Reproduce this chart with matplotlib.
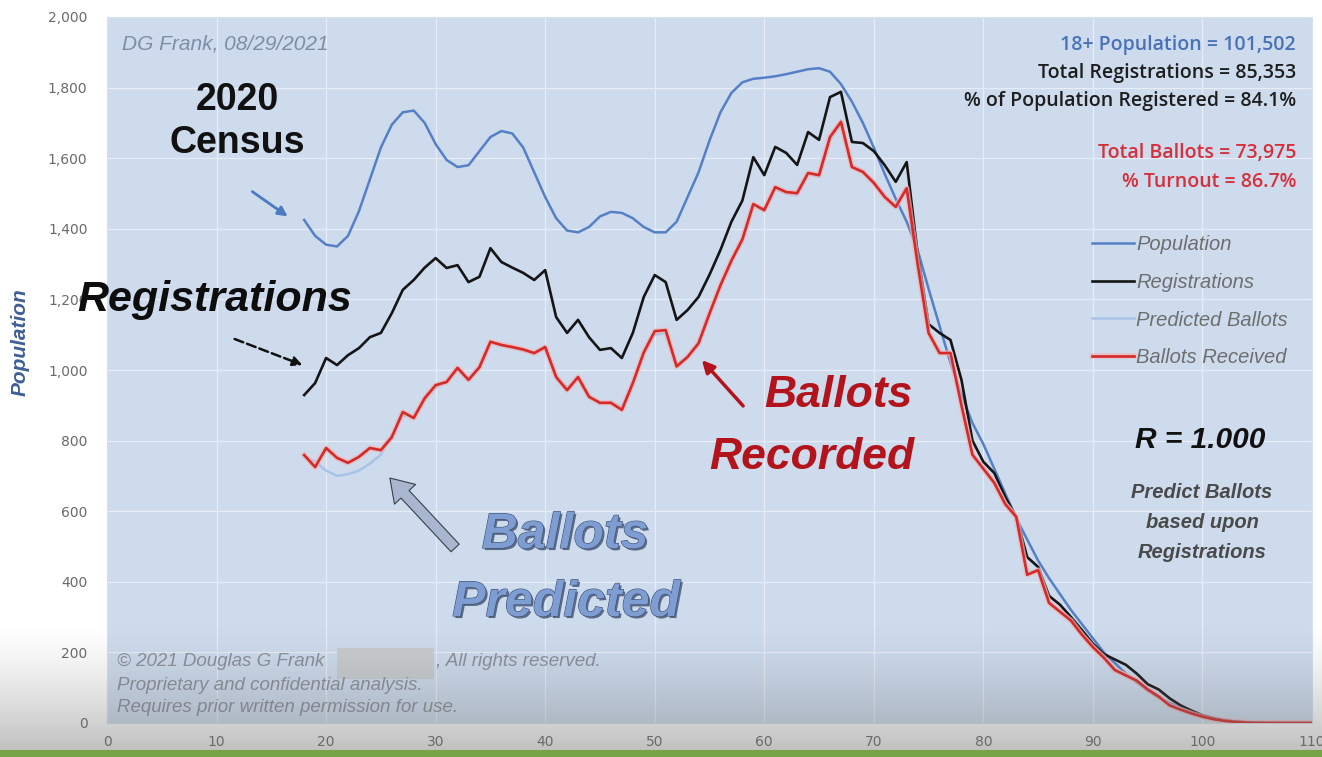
import numpy as np
import matplotlib.pyplot as plt
from matplotlib import patheffects as pe
from matplotlib.patches import Rectangle

# ---------------------------------------------------------
# data, one point per year of age
# ---------------------------------------------------------
ages = list(range(18, 111))

population = [
    1425, 1380, 1355, 1350, 1380, 1450, 1540, 1630, 1695, 1730,   # 18-27
    1735, 1700, 1640, 1595, 1575, 1580, 1620, 1660, 1677, 1670,   # 28-37
    1630, 1560, 1490, 1430, 1395, 1390, 1405, 1435, 1448, 1445,   # 38-47
    1430, 1405, 1390, 1390, 1420, 1490, 1560, 1650, 1730, 1785,   # 48-57
    1815, 1825, 1828, 1832, 1838, 1845, 1852, 1855, 1845, 1810,   # 58-67
    1760, 1700, 1630, 1555, 1485, 1420, 1340, 1230, 1125, 1020,   # 68-77
    930, 850, 790, 720, 650, 580, 520, 460, 410, 365,             # 78-87
    320, 280, 240, 200, 170, 140, 115, 92, 72, 57,                # 88-97
    42, 30, 20, 12, 7, 4, 2, 1, 1, 0, 0, 0, 0,                    # 98-110
]

registrations = [
    929, 963, 1034, 1014, 1042, 1062, 1093, 1105, 1161, 1227,
    1255, 1290, 1317, 1289, 1297, 1249, 1264, 1345, 1306, 1290,
    1275, 1255, 1283, 1150, 1105, 1142, 1093, 1057, 1062, 1034,
    1105, 1207, 1269, 1249, 1142, 1170, 1207, 1270, 1340, 1420,
    1480, 1603, 1552, 1632, 1615, 1581, 1674, 1652, 1773, 1788,
    1646, 1643, 1620, 1580, 1533, 1589, 1330, 1130, 1105, 1085,
    972, 800, 740, 708, 640, 584, 470, 442, 360, 335,
    300, 263, 225, 195, 180, 165, 140, 110, 95, 70,
    50, 35, 22, 14, 8, 4, 2, 1, 0, 0, 0, 0, 0,
]

predicted = [
    755, 740, 715, 700, 705, 715, 735, 760, 815, 870,
    870, 915, 950, 965, 1000, 975, 1010, 1075, 1070, 1062,
    1055, 1045, 1060, 985, 950, 975, 930, 905, 910, 895,
    960, 1045, 1100, 1105, 1015, 1040, 1070, 1155, 1235, 1305,
    1365, 1465, 1450, 1512, 1500, 1495, 1555, 1548, 1652, 1695,
    1580, 1565, 1535, 1495, 1465, 1510, 1305, 1110, 1050, 1045,
    905, 765, 725, 685, 625, 585, 425, 435, 345, 318,
    292, 252, 218, 188, 155, 138, 122, 97, 77, 52,
    39, 28, 18, 11, 6, 3, 1, 0, 0, 0, 0, 0, 0,
]

ballots = [
    759, 725, 779, 751, 737, 754, 779, 773, 810, 881,
    864, 920, 957, 966, 1006, 972, 1008, 1080, 1071, 1065,
    1058, 1048, 1065, 980, 943, 980, 924, 907, 907, 887,
    963, 1050, 1110, 1113, 1010, 1037, 1076, 1160, 1240, 1310,
    1370, 1470, 1453, 1518, 1504, 1501, 1558, 1552, 1660, 1703,
    1575, 1561, 1530, 1490, 1462, 1515, 1300, 1105, 1048, 1048,
    900, 760, 720, 680, 620, 584, 420, 433, 340, 315,
    290, 250, 215, 185, 150, 135, 120, 95, 75, 50,
    38, 27, 18, 11, 6, 3, 1, 0, 0, 0, 0, 0, 0,
]

x_ticks = list(range(0, 111, 10))
y_ticks = list(range(0, 2001, 200))

stats_lines = [
    ("18+ Population = 101,502", "#4a72b8"),
    ("Total Registrations = 85,353", "#1e1e1e"),
    ("% of Population Registered = 84.1%", "#1e1e1e"),
    ("Total Ballots = 73,975", "#d6303c"),
    ("% Turnout = 86.7%", "#d6303c"),
]

# ---------------------------------------------------------
# helpers: pixel position -> figure fraction
# ---------------------------------------------------------
W, H = 1322, 757
def fx(x): return x / W
def fy(y): return 1 - y / H

fig = plt.figure(figsize=(W / 100, H / 100), dpi=100)
fig.patch.set_facecolor("white")

ax = fig.add_axes([fx(107), fy(723), fx(1312) - fx(107), fy(17) - fy(723)])
ax.set_facecolor("#cddbed")
ax.set_xlim(0, 110)
ax.set_ylim(0, 2000)
ax.set_xticks(x_ticks)
ax.set_yticks(y_ticks)
ax.set_yticklabels([f"{v:,}" for v in y_ticks])
ax.tick_params(length=0, labelsize=10, labelcolor="#6a6a6a")
ax.tick_params(axis="y", pad=14)
ax.tick_params(axis="x", pad=9)
ax.grid(True, color="#e6edf6", lw=0.9)
ax.set_axisbelow(True)
for s in ax.spines.values():
    s.set_color("#d8e0ea")

ax.set_ylabel("Population", fontsize=15, fontstyle="italic", fontweight="bold",
              color="#3f5f95", family="Liberation Sans")
ax.yaxis.set_label_coords(fx(22) - fx(107), (fy(342) - fy(723)) / (fy(17) - fy(723)))

# lines
ax.plot(ages, population, color="#5580c6", lw=1.8, label="Population", zorder=3)
ax.plot(ages, registrations, color="#151515", lw=1.9, label="Registrations", zorder=4)
ax.plot(ages, ballots, color="#d42a2a", lw=1.9, label="Ballots Received", zorder=5,
        path_effects=[pe.Stroke(linewidth=4, foreground="#f2b5b5", alpha=0.7), pe.Normal()])
ax.plot(ages, predicted, color="#a9c3e6", lw=1.8, label="Predicted Ballots", zorder=4.5)

# legend (order as in the picture)
h, l = ax.get_legend_handles_labels()
order = [0, 1, 3, 2]
leg = ax.legend([h[i] for i in order], [l[i] for i in order],
                loc="upper left", bbox_to_anchor=(fx(1082), fy(225)),
                bbox_transform=fig.transFigure, frameon=False,
                handlelength=2.1, handletextpad=0.1, labelspacing=0.93,
                borderpad=0,
                prop={"family": "Liberation Sans", "style": "italic", "size": 14.5})
for t in leg.get_texts():
    t.set_color("#6e6e6e")

# ---------------------------------------------------------
# texts
# ---------------------------------------------------------
fig.text(fx(122), fy(44), "DG Frank, 08/29/2021", fontsize=15, style="italic",
         color="#7f8ea6", family="Liberation Sans", va="center")

y_pos = [45, 73, 101, 153, 182]
for (txt, col), yy in zip(stats_lines, y_pos):
    fig.text(fx(1296), fy(yy), txt, fontsize=14, color=col, family="Open Sans",
             fontweight="semibold", ha="right", va="center")

fig.text(fx(237), fy(100), "2020", fontsize=27, fontweight="bold", color="#111111",
         family="Liberation Sans", ha="center", va="center")
fig.text(fx(237), fy(143), "Census", fontsize=27, fontweight="bold", color="#111111",
         family="Liberation Sans", ha="center", va="center")

fig.text(fx(215), fy(300), "Registrations", fontsize=31, fontweight="bold",
         style="italic", color="#0d0d0d", family="Liberation Sans",
         ha="center", va="center", zorder=7)

fig.text(fx(838), fy(395), "Ballots", fontsize=32, fontweight="bold", style="italic",
         color="#b3141c", family="Liberation Sans", ha="center", va="center")
fig.text(fx(812), fy(458), "Recorded", fontsize=32, fontweight="bold", style="italic",
         color="#b3141c", family="Liberation Sans", ha="center", va="center")

pred_fx = [pe.withSimplePatchShadow(offset=(1.5, -1.5), shadow_rgbFace="#2c3d5c", alpha=0.7),
           pe.Stroke(linewidth=0.8, foreground="#3b4d6e"), pe.Normal()]
fig.text(fx(565), fy(535), "Ballots", fontsize=36, fontweight="bold", style="italic",
         color="#7d9dd3", family="Liberation Sans", ha="center", va="center",
         path_effects=pred_fx)
fig.text(fx(566), fy(603), "Predicted", fontsize=36, fontweight="bold", style="italic",
         color="#7d9dd3", family="Liberation Sans", ha="center", va="center",
         path_effects=pred_fx)

fig.text(fx(1200), fy(440), "R = 1.000", fontsize=21.5, fontweight="bold", style="italic",
         color="#111111", family="Liberation Sans", ha="center", va="center")
for txt, yy in zip(["Predict Ballots", "based upon", "Registrations"], [493, 522, 552]):
    fig.text(fx(1202), fy(yy), txt, fontsize=14.5, fontweight="bold", style="italic",
             color="#4a4a4a", family="Liberation Sans", ha="center", va="center")

copy_lines = ["\u00a9 2021 Douglas G Frank",
              "Proprietary and confidential analysis.",
              "Requires prior written permission for use."]
for txt, yy in zip(copy_lines, [661, 685, 708]):
    fig.text(fx(117), fy(yy), txt, fontsize=13.5, style="italic", color="#8a8f98",
             family="Liberation Sans", va="center", zorder=6)
fig.text(fx(436), fy(661), ", All rights reserved.", fontsize=13.5, style="italic",
         color="#8a8f98", family="Liberation Sans", va="center", zorder=6)
fig.patches.append(Rectangle((fx(337), fy(679)), fx(434) - fx(337), fy(648) - fy(679),
                             transform=fig.transFigure, facecolor="#c9cccf",
                             edgecolor="none", zorder=5))

# ---------------------------------------------------------
# arrows
# ---------------------------------------------------------
def arrow(x0, y0, x1, y1, **kw):
    ax.annotate("", xy=(fx(x1), fy(y1)), xytext=(fx(x0), fy(y0)),
                xycoords="figure fraction", textcoords="figure fraction",
                arrowprops=kw, zorder=6)

arrow(250, 190, 290, 218, arrowstyle="-|>", color="#4d79c0", lw=2, mutation_scale=14)
arrow(232, 338, 305, 366, arrowstyle="-|>", color="#111111", lw=1.8, ls="--",
      mutation_scale=14)
arrow(745, 408, 700, 358, arrowstyle="-|>", color="#b3141c", lw=2.5, mutation_scale=18)
arrow(457, 550, 388, 476, arrowstyle="simple,head_width=1.3,head_length=1.0,tail_width=0.5",
      facecolor="#a8b7cf", edgecolor="#3a3f4a", lw=0.8, mutation_scale=16)

# ---------------------------------------------------------
# photo shading at the bottom and the green strip
# ---------------------------------------------------------
shade = fig.add_axes([0, fy(750), 1, fy(625) - fy(750)], zorder=10)
grad = np.linspace(0, 1, 100)
rgba = np.zeros((100, 1, 4))
rgba[..., 0:3] = 0.42
rgba[:, 0, 3] = (grad ** 1.3) * 0.42
shade.imshow(rgba, aspect="auto", extent=(0, 1, 0, 1))
shade.axis("off")

fig.patches.append(Rectangle((0, 0), 1, fy(750), transform=fig.transFigure,
                             facecolor="#77a446", edgecolor="none", zorder=11))

fig.savefig("out.png", dpi=100)
